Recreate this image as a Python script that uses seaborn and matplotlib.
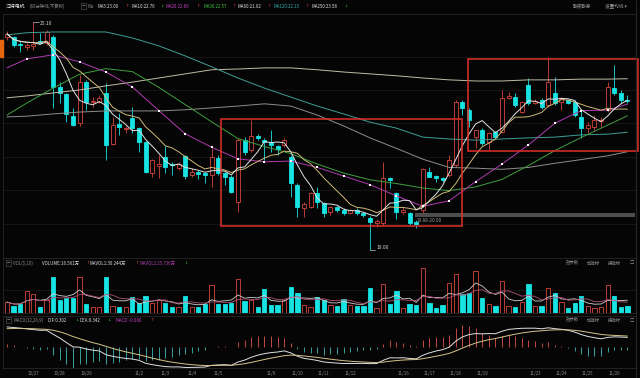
import numpy as np
import pandas as pd
import matplotlib
matplotlib.use("Agg")
import matplotlib.pyplot as plt
from matplotlib.patches import Rectangle
import seaborn as sns

# 江特电机 60-minute bars (4 per trading day), 10/26 - 11/26
opens = [24.70, 24.70, 24.51, 24.43, 24.46, 24.59, 24.54, 24.70, 23.36, 23.17,
         22.58, 22.40, 23.49, 22.96, 22.96, 23.20, 21.84, 22.37, 22.24, 22.53,
         22.26, 21.89, 21.06, 21.25, 21.49, 21.30, 21.19, 21.51, 21.01, 21.09,
         21.06, 21.01, 21.46, 21.06, 20.95, 20.28, 21.94, 21.68, 22.05, 21.94,
         21.89, 21.78, 21.81, 21.49, 20.74, 20.12, 20.15, 20.52, 20.26, 20.02,
         20.15, 20.07, 19.99, 20.07, 19.99, 19.86, 19.72, 19.72, 20.93, 20.52,
         20.02, 19.99, 19.75, 20.07, 21.09, 20.98, 20.93, 21.01, 21.27, 22.96,
         22.75, 22.02, 22.21, 21.89, 22.16, 22.16, 23.07, 23.09, 22.69, 23.41,
         22.93, 23.01, 22.88, 23.20, 22.96, 23.01, 22.96, 22.56, 22.26, 22.29,
         22.45, 22.75, 23.33, 23.20, 23.01]
highs = [24.86, 24.72, 24.59, 24.54, 25.10, 24.81, 24.89, 24.75, 23.49, 23.20,
         22.80, 23.68, 23.55, 23.09, 23.15, 23.47, 22.56, 22.66, 22.32, 22.83,
         22.29, 21.92, 21.43, 21.54, 21.78, 21.35, 21.35, 21.54, 21.19, 21.14,
         21.09, 21.73, 21.54, 21.09, 21.01, 22.00, 22.02, 22.48, 22.10, 22.00,
         22.21, 21.81, 22.00, 21.54, 20.79, 20.28, 20.55, 20.69, 20.28, 20.18,
         20.18, 20.12, 20.10, 20.12, 20.02, 19.91, 19.83, 21.35, 20.95, 20.55,
         20.15, 20.02, 19.80, 21.19, 21.22, 21.01, 20.95, 21.54, 23.01, 23.01,
         22.80, 22.21, 22.26, 22.16, 22.18, 23.28, 23.23, 23.20, 22.96, 23.60,
         23.04, 23.07, 24.16, 23.63, 23.09, 23.04, 23.01, 22.75, 22.42, 22.61,
         22.56, 23.49, 23.95, 23.28, 23.15]
lows = [24.62, 24.43, 24.30, 24.35, 24.35, 24.51, 24.48, 22.80, 22.93, 22.42,
        22.32, 22.32, 22.75, 22.83, 22.93, 21.41, 21.81, 22.08, 22.13, 22.13,
        21.62, 21.06, 20.95, 20.93, 21.06, 21.01, 21.14, 20.90, 20.95, 20.90,
        20.79, 20.69, 21.01, 20.74, 20.52, 20.02, 21.54, 21.62, 21.94, 21.41,
        21.62, 21.54, 21.76, 20.42, 19.88, 19.88, 20.12, 20.12, 19.88, 19.94,
        20.02, 19.94, 19.96, 19.94, 19.88, 19.00, 19.62, 19.67, 20.66, 19.83,
        19.96, 19.67, 19.59, 19.99, 20.95, 20.82, 20.82, 20.95, 21.22, 22.61,
        22.29, 21.73, 21.81, 21.68, 22.00, 22.13, 23.04, 22.83, 22.66, 22.88,
        22.91, 22.77, 22.83, 22.88, 22.75, 22.91, 22.56, 22.00, 22.13, 22.21,
        22.29, 22.69, 23.15, 22.93, 22.93]
closes = [24.78, 24.48, 24.48, 24.48, 24.51, 24.54, 24.83, 23.36, 23.20, 22.64,
          22.34, 23.49, 22.96, 22.99, 23.07, 21.81, 22.34, 22.29, 22.26, 22.26,
          21.89, 21.09, 21.41, 21.30, 21.22, 21.27, 21.30, 20.98, 21.09, 21.03,
          21.01, 21.49, 21.06, 20.95, 20.55, 21.94, 21.62, 22.05, 22.00, 21.89,
          21.81, 21.70, 21.94, 20.79, 20.15, 20.23, 20.52, 20.28, 19.99, 20.15,
          20.07, 19.99, 20.07, 19.99, 19.94, 19.75, 19.78, 20.93, 20.87, 20.02,
          20.07, 19.72, 19.70, 21.17, 20.95, 20.93, 20.87, 21.41, 22.96, 22.80,
          22.48, 22.21, 21.86, 22.13, 22.02, 23.07, 23.12, 22.88, 22.96, 22.93,
          22.99, 22.83, 23.49, 22.93, 23.04, 22.93, 22.61, 22.26, 22.34, 22.48,
          22.48, 23.36, 23.20, 23.01, 22.99]
# volume, 万
volumes = [26.0, 16.6, 21.3, 52.1, 45.0, 14.2, 30.8, 85.2, 30.8, 35.5,
           35.5, 85.2, 21.3, 14.2, 14.2, 85.2, 16.6, 14.2, 14.2, 37.9,
           23.7, 40.2, 23.7, 30.8, 23.7, 14.2, 14.2, 40.2, 14.2, 14.2,
           21.3, 66.2, 21.3, 21.3, 23.7, 80.4, 28.4, 30.8, 14.2, 56.8,
           18.9, 18.9, 30.8, 61.5, 47.3, 18.9, 14.2, 37.9, 30.8, 18.9,
           16.6, 33.1, 18.9, 16.6, 16.6, 59.2, 11.8, 68.6, 21.3, 52.1,
           11.8, 21.3, 18.9, 106.5, 23.7, 11.8, 18.9, 71.0, 92.3, 45.0,
           47.3, 99.4, 35.5, 21.3, 16.6, 75.7, 16.6, 14.2, 26.0, 68.6,
           16.6, 16.6, 59.2, 47.3, 26.0, 11.8, 23.7, 40.2, 16.6, 11.8,
           14.2, 66.2, 40.2, 14.2, 16.56]

day_labels = ["10/27", "10/28", "10/29", "11/2", "11/3", "11/4", "11/5", "11/9", "11/10",
              "11/11", "11/12", "11/16", "11/17", "11/18", "11/19", "11/23", "11/24",
              "11/25", "11/26"]
day_starts = [4, 8, 12, 20, 24, 28, 32, 40, 44, 48, 52, 60, 64, 68, 72, 80, 84, 88, 92]

# longer moving averages read at the last bar of each day
ma_bars = [0, 3, 7, 11, 15, 19, 23, 27, 31, 35, 39, 43, 47, 51, 55, 59, 63, 67, 71, 75,
           79, 83, 87, 91, 94]
ma20 = [23.87, 24.11, 24.22, 24.03, 23.76, 23.36, 22.73, 22.11, 21.75, 21.44, 21.36, 21.38,
        21.21, 20.98, 20.75, 20.45, 20.17, 20.32, 20.83, 21.30, 21.81, 22.39, 22.73, 22.74, 22.90]
ma30 = [22.61, 22.93, 23.33, 23.70, 23.85, 23.77, 23.35, 22.89, 22.43, 21.98, 21.77, 21.58,
        21.30, 21.06, 20.88, 20.78, 20.66, 20.59, 20.69, 20.89, 21.26, 21.66, 22.01, 22.34, 22.59]
ma60 = [22.56, 22.58, 22.64, 22.69, 22.72, 22.72, 22.72, 22.75, 22.80, 22.85, 22.91, 22.85,
        22.61, 22.32, 22.00, 21.72, 21.43, 21.21, 21.19, 21.16, 21.21, 21.32, 21.42, 21.52, 21.63]
ma120 = [24.75, 24.81, 24.83, 24.83, 24.83, 24.67, 24.46, 24.19, 23.90, 23.60, 23.33, 23.09,
         22.85, 22.64, 22.42, 22.26, 22.02, 21.97, 21.94, 21.97, 22.00, 22.02, 22.08, 22.10, 22.15]
ma250 = [23.07, 23.12, 23.20, 23.28, 23.39, 23.49, 23.60, 23.71, 23.82, 23.84, 23.87, 23.87,
         23.82, 23.76, 23.71, 23.66, 23.60, 23.55, 23.52, 23.52, 23.55, 23.55, 23.57, 23.57, 23.58]

# MACD(12,26,9) state before the first bar
EMA12_START, EMA26_START, DEA_START = 24.00, 23.40, 0.55

sns.set_theme(style="dark")
plt.rcParams["font.family"] = ["Noto Sans CJK SC", "DejaVu Sans"]
plt.rcParams["axes.unicode_minus"] = False

BG = "#050505"
RED = "#d8453c"
GREEN = "#30c030"
CYAN = "#17e3e3"
GRAY = "#8c8c8c"
W, H = 640, 378

idx = np.arange(len(closes))
o, h, l, c = map(np.array, (opens, highs, lows, closes))
up = c >= o
edge = np.where(up, RED, CYAN)
face = np.where(up, BG, CYAN)

fig = plt.figure(figsize=(W / 100, H / 100), dpi=100, facecolor=BG)


def panel(top, bottom):
    a = fig.add_axes([3 / W, 1 - bottom / H, 633 / W, (bottom - top) / H])
    a.set_facecolor(BG)
    for s in a.spines.values():
        s.set_color("#262626")
        s.set_linewidth(0.6)
    a.tick_params(length=0, labelsize=3.2, colors=GRAY, pad=2)
    a.set_yticks([])
    a.set_xticks([])
    a.set_xlim(-0.6, 95.3)
    a.grid(False)
    return a


def label(xp, yp, s, color=GRAY, size=3.3, **kw):
    fig.text(xp / W, 1 - yp / H, s, color=color, fontsize=size, va="center", ha="left", **kw)


def arrow(xp, yp, s):
    label(xp, yp, s, RED if s == "↑" else GREEN, 3.0, family="DejaVu Sans")


# --- main price panel ---
ax = panel(14, 258)
ax.set_ylim(18.79, 25.31)
for g in [24.17, 23.28, 22.39, 21.50, 20.61, 19.71]:
    ax.axhline(g, color="#1b1b1b", lw=0.5, zorder=0)

ax.fill_between([61.8, 95.2], 19.88, 20.00, color="#5a5a5a", alpha=0.85, lw=0, zorder=1)
ax.text(62.1, 19.80, "19.88-20.00", fontsize=3.4, color="#9a9a9a", va="center")

ax.vlines(idx, l, h, colors=edge, lw=0.6, zorder=2)
ax.bar(idx, np.maximum(np.abs(c - o), 0.015), bottom=np.minimum(o, c), width=0.62,
       color=face, edgecolor=edge, linewidth=0.6, zorder=3)

ma5 = pd.Series(closes).rolling(5, min_periods=1).mean()
ma10 = pd.Series(closes).rolling(10, min_periods=1).mean()
for vals, col in [(ma250, "#c2bba4"), (ma120, "#3f9d95"), (ma60, "#8d8d8d"),
                  (ma30, "#3f9f3f"), (ma20, "#b03cb0")]:
    sns.lineplot(x=ma_bars, y=vals, ax=ax, color=col, lw=0.7, legend=False, zorder=4)
sns.lineplot(x=idx, y=ma10, ax=ax, color="#cdb978", lw=0.7, legend=False, zorder=4)
sns.lineplot(x=idx, y=ma5, ax=ax, color="#e2e2e2", lw=0.7, legend=False, zorder=4)
ax.scatter(ma_bars[1:-1], ma20[1:-1], marker="s", s=3, color="white", lw=0, zorder=5)

hi = int(np.argmax(h))
lo = int(np.argmin(l))
ax.plot([hi, hi + 0.8], [h[hi], h[hi]], color="#bbbbbb", lw=0.5, zorder=5)
ax.text(hi + 0.95, h[hi] - 0.05, f"{h[hi]:.2f}", fontsize=3.6, color="#cfcfcf", va="center")
ax.plot([lo, lo + 0.8], [l[lo], l[lo]], color="#bbbbbb", lw=0.5, zorder=5)
ax.text(lo + 0.95, l[lo] + 0.08, f"{l[lo]:.2f}", fontsize=3.6, color="#cfcfcf", va="center")

ax.add_patch(Rectangle((32.4, 19.64), 36.5, 2.86, fill=False, ec="#e0302a", lw=1.1, zorder=6))
ax.add_patch(Rectangle((69.8, 21.65), 25.8, 2.46, fill=False, ec="#e0302a", lw=1.1,
                       zorder=6, clip_on=False))

# --- volume panel ---
axv = panel(258, 313)
axv.set_ylim(0, 130)
axv.axhline(54, color="#1b1b1b", lw=0.5, zorder=0)
axv.bar(idx, volumes, width=0.64, color=face, edgecolor=edge, linewidth=0.6, zorder=2)
vol = pd.Series(volumes)
sns.lineplot(x=idx, y=vol.rolling(5, min_periods=1).mean(), ax=axv, color="#cfcfcf",
             lw=0.6, legend=False, zorder=3)
sns.lineplot(x=idx, y=vol.rolling(10, min_periods=1).mean(), ax=axv, color="#b0507a",
             lw=0.6, legend=False, zorder=3)

# --- MACD panel ---
axm = panel(316, 368)
e12, e26, dea_v = EMA12_START, EMA26_START, DEA_START
dif, dea = [], []
for px in closes:
    e12 += (px - e12) * 2 / 13
    e26 += (px - e26) * 2 / 27
    d = e12 - e26
    dea_v += (d - dea_v) * 2 / 10
    dif.append(d)
    dea.append(dea_v)
dif, dea = np.array(dif), np.array(dea)
hist = 2 * (dif - dea)
axm.set_ylim(-0.63, 0.95)
axm.vlines(idx, 0, hist, colors=np.where(hist >= 0, "#c24a45", "#3a9e9e"), lw=0.7, zorder=2)
sns.lineplot(x=idx, y=dif, ax=axm, color="#e0e0e0", lw=0.7, legend=False, zorder=3)
sns.lineplot(x=idx, y=dea, ax=axm, color="#d6c48a", lw=0.7, legend=False, zorder=3)
axm.set_xticks(day_starts)
axm.set_xticklabels(day_labels)
for a in (ax, axv, axm):
    a.set_ylabel("")
    a.set_xlabel("")

# --- header texts ---
box = dict(boxstyle="square,pad=0.15", fc="none", ec="#5a5a5a", lw=0.4)
label(6, 6, "江特电机", "#e8e8e8", 3.5)
label(30, 6, "(60分钟线,不复权)", GRAY, 3.2)
label(82, 6, "▽", GRAY, 2.6, bbox=box)
label(88, 6, "Ma", GRAY, 3.2)
heads = [(97, "MA5:23.00", "#e0e0e0", 125, "↑"), (131, "MA10:22.76", "#e0e0e0", 160, "↓"),
         (166, "MA20:22.89", "#c040c0", 196, "↑"), (203, "MA30:22.57", "#40c040", 232, "↑"),
         (238, "MA60:21.62", "#e0e0e0", 267, "↑"), (273, "MA120:22.15", "#30b0b0", 305, "↑"),
         (312, "MA250:23.58", "#e0e0e0", 344, "↓")]
for xp, s, col, xa, arr in heads:
    label(xp, 6, s, col, 3.2)
    arrow(xa, 6, arr)
label(573, 6, "融资融券", "#9a9a9a", 3.3)
label(605, 6, "设置均线 ▾", "#9a9a9a", 3.3)

label(7, 263, "▽", GRAY, 2.6, bbox=box)
label(13, 263, "VOL(5,10)", GRAY, 3.2)
label(42, 263, "VOLUME:16.561万", "#e0e0e0", 3.2)
arrow(86, 263, "↑")
label(90, 263, "MAVOL1:30.244万", "#e0e0e0", 3.2)
arrow(135, 263, "↑")
label(139, 263, "MAVOL2:25.736万", "#b040b0", 3.2)
arrow(184, 263, "↓")

label(7, 320, "▽", GRAY, 2.6, bbox=box)
label(13, 320, "MACD(12,26,9)", GRAY, 3.2)
label(48, 320, "DIF:0.302", "#e0e0e0", 3.2)
arrow(75, 320, "↓")
label(80, 320, "DEA:0.342", "#e0e0e0", 3.2)
arrow(107, 320, "↓")
label(115, 320, "MACD:-0.080", "#c040c0", 3.2)
arrow(150, 320, "↑")

for yp in (263, 320):
    label(566, yp, "改参数", GRAY, 3.2)
    label(587, yp, "加指标", GRAY, 3.2)
    label(608, yp, "换指标", GRAY, 3.2)
    label(630, yp, "□", GRAY, 3.2)

fig.add_artist(Rectangle((0, 1 - 57 / H), 3 / W, 17 / H, transform=fig.transFigure,
                         color="#e8650f"))
fig.add_artist(plt.Line2D([636 / W, 636 / W], [0, 1], color="#2a2a2a", lw=0.6))

fig.savefig("out.png", dpi=100, facecolor=BG)
